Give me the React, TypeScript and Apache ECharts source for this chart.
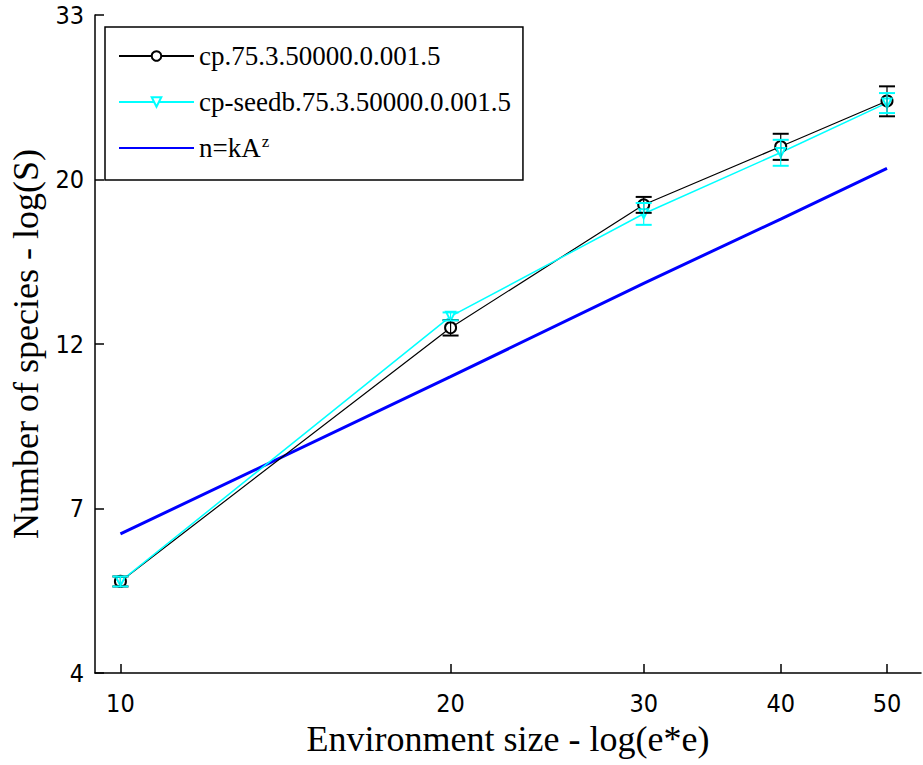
import React, { useEffect, useRef } from "react";
import * as echarts from "echarts";

// ---- data ----
const envSizes = [10, 20, 30, 40, 50];
const cpMean = [5.92, 12.8, 18.6, 22.2, 25.5];
const cpErr = [0.09, 0.3, 0.45, 0.88, 1.16];
const seedMean = [5.92, 13.25, 18.1, 21.8, 25.35];
const seedErr = [0.09, 0.16, 0.6, 0.86, 0.77];
const powerLaw = [6.84, 11.03, 14.65, 17.81, 20.77];

const xTicks = [10, 20, 30, 40, 50];
const yTickLabels = ["4", "7", "12", "20", "33"];
const xRange = [9.48, 53.7];
const yLogRange = [1.5, 3.5];
const yLogStep = 0.5;

const nameCp = "cp.75.3.50000.0.001.5";
const nameSeed = "cp-seedb.75.3.50000.0.001.5";
const namePow = "n=kA^z";

const tickFont = "Liberation Sans Narrow, DejaVu Sans Condensed, Liberation Sans, sans-serif";
const serifFont = "Liberation Serif, DejaVu Serif, serif";

function errorBars(means: number[], errs: number[]) {
  return envSizes.map((x, i) => [Math.log(x), Math.log(means[i] - errs[i]), Math.log(means[i] + errs[i])]);
}

function makeErrSeries(means: number[], errs: number[], color: string) {
  return {
    type: "custom",
    silent: true,
    data: errorBars(means, errs),
    encode: { x: 0, y: [1, 2] },
    z: 5,
    renderItem: (params: any, api: any) => {
      const x = api.value(0);
      const top = api.coord([x, api.value(2)]);
      const bot = api.coord([x, api.value(1)]);
      const w = 8;
      const style = { stroke: color, lineWidth: 2 };
      return {
        type: "group",
        children: [
          { type: "line", shape: { x1: top[0], y1: top[1], x2: bot[0], y2: bot[1] }, style: { stroke: color, lineWidth: 1.2 } },
          { type: "line", shape: { x1: top[0] - w, y1: top[1], x2: top[0] + w, y2: top[1] }, style },
          { type: "line", shape: { x1: bot[0] - w, y1: bot[1], x2: bot[0] + w, y2: bot[1] }, style },
        ],
      };
    },
  };
}

export default function App() {
  const ref = useRef<HTMLDivElement>(null);
  useEffect(() => {
    if (!ref.current) return;
    const chart = echarts.init(ref.current, undefined, { renderer: "svg" });
    const toPts = (vals: number[]) => envSizes.map((x, i) => [Math.log(x), Math.log(vals[i])]);
    chart.setOption({
      animation: false,
      backgroundColor: "#fff",
      grid: { left: 95, top: 15, right: 2, bottom: 92, containLabel: false, outerBoundsMode: "none" },
      legend: {
        orient: "vertical",
        left: 105,
        top: 27,
        data: [nameCp, nameSeed, { name: namePow, itemStyle: { opacity: 0 } }],
        itemWidth: 75,
        itemHeight: 12,
        itemGap: 16,
        padding: [14, 12, 14, 13],
        borderColor: "#000",
        borderWidth: 1.5,
        borderRadius: 0,
        backgroundColor: "#fff",
        symbolRotate: "inherit",
        textStyle: {
          fontFamily: serifFont,
          fontSize: 27,
          color: "#000",
          lineHeight: 30,
          rich: {
            base: { fontFamily: serifFont, fontSize: 27, color: "#000", lineHeight: 30 },
            sup: { fontFamily: serifFont, fontSize: 17, color: "#000", verticalAlign: "top", lineHeight: 30, padding: [0, 0, 16, 1] },
          },
        },
        formatter: (name: string) => (name === namePow ? "{base|n=kA}{sup|z}" : name),
      },
      xAxis: {
        type: "value",
        min: Math.log(xRange[0]),
        max: Math.log(xRange[1]),
        name: "Environment size - log(e*e)",
        nameLocation: "middle",
        nameGap: 46,
        nameTextStyle: { fontFamily: serifFont, fontSize: 36, color: "#000" },
        axisLine: { show: true, lineStyle: { color: "#000", width: 1.5 } },
        axisTick: { show: true, inside: true, length: 9, customValues: xTicks.map((v) => Math.log(v)), lineStyle: { color: "#000", width: 1.5 } },
        axisLabel: {
          customValues: xTicks.map((v) => Math.log(v)),
          formatter: (v: number) => String(xTicks.find((t) => Math.abs(Math.log(t) - v) < 1e-6) ?? ""),
          margin: 18,
          fontFamily: tickFont,
          fontSize: 25,
          color: "#000",
        },
        splitLine: { show: false },
      },
      yAxis: {
        type: "value",
        min: yLogRange[0],
        max: yLogRange[1],
        interval: yLogStep,
        name: "Number of species - log(S)",
        nameLocation: "middle",
        nameGap: 48,
        nameTextStyle: { fontFamily: serifFont, fontSize: 36, color: "#000" },
        axisLine: { show: true, lineStyle: { color: "#000", width: 1.5 } },
        axisTick: { show: true, inside: true, length: 9, lineStyle: { color: "#000", width: 1.5 } },
        axisLabel: {
          formatter: (v: number) => yTickLabels[Math.round((v - yLogRange[0]) / yLogStep)] ?? "",
          margin: 11,
          showMinLabel: true,
          showMaxLabel: true,
          fontFamily: tickFont,
          fontSize: 25,
          color: "#000",
        },
        splitLine: { show: false },
      },
      series: [
        {
          name: nameCp,
          type: "line",
          data: toPts(cpMean),
          symbol: "emptyCircle",
          symbolSize: 11,
          itemStyle: { color: "#000", borderColor: "#000", borderWidth: 1.2 },
          lineStyle: { color: "#000", width: 1.2 },
          z: 3,
        },
        {
          name: nameSeed,
          type: "line",
          data: toPts(seedMean),
          symbol: "emptyTriangle",
          symbolRotate: 180,
          symbolSize: 9,
          itemStyle: { color: "#00ffff", borderColor: "#00ffff", borderWidth: 1.2 },
          lineStyle: { color: "#00ffff", width: 1.5 },
          z: 3,
        },
        {
          name: namePow,
          type: "line",
          data: toPts(powerLaw),
          showSymbol: false,
          itemStyle: { color: "#0000ff" },
          lineStyle: { color: "#0000ff", width: 3 },
          z: 2,
        },
        makeErrSeries(cpMean, cpErr, "#000"),
        makeErrSeries(seedMean, seedErr, "#00ffff"),
      ],
    });
    return () => chart.dispose();
  }, []);
  return <div ref={ref} style={{ position: "fixed", left: 0, top: 0, width: 923, height: 765 }} />;
}
